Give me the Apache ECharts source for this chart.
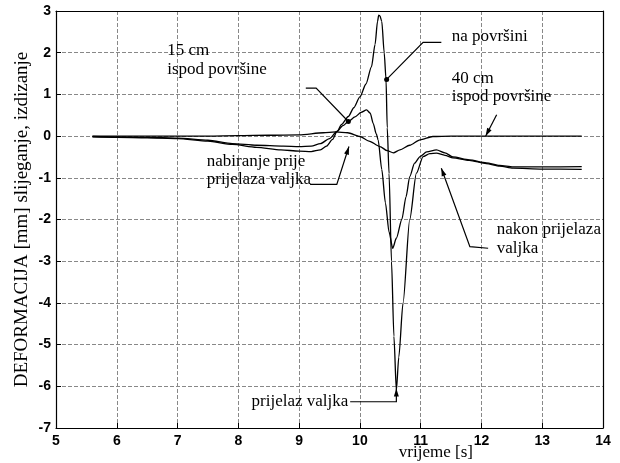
<!DOCTYPE html>
<html>
<head>
<meta charset="utf-8">
<script src="https://cdn.jsdelivr.net/npm/echarts@6/dist/echarts.min.js"></script>
<style>
  html, body { margin: 0; background: #fff; }
  #chart { width: 620px; height: 463px; }
</style>
</head>
<body>
<div id="chart"></div>
<script>
// vrijeme [s] / deformacija [mm] for the three measuring depths
const tSurface = [5.6, 6.0, 6.5, 7.0, 7.5, 7.9, 8.3, 8.7, 9.0, 9.2, 9.35, 9.45, 9.55, 9.62, 9.7, 9.81, 9.9, 10.0, 10.1, 10.19, 10.25, 10.29, 10.31, 10.33, 10.36, 10.4, 10.43, 10.45, 10.48, 10.52, 10.56, 10.6, 10.64, 10.71, 10.82, 10.93, 11.04, 11.15, 11.26, 11.4, 11.53, 11.8, 12.08, 12.3, 12.52, 13.0, 13.65];
const ySurface = [-0.02, -0.03, -0.04, -0.06, -0.12, -0.2, -0.27, -0.33, -0.36, -0.37, -0.33, -0.24, -0.08, 0.1, 0.28, 0.47, 0.68, 0.94, 1.25, 1.66, 2.2, 2.75, 2.9, 2.88, 2.75, 2.0, 1.36, 0.2, -0.9, -3.0, -4.8, -6.1, -5.3, -4.0, -2.0, -0.89, -0.49, -0.42, -0.41, -0.46, -0.52, -0.58, -0.66, -0.72, -0.77, -0.79, -0.8];

const t15 = [5.6, 6.0, 6.5, 7.0, 7.5, 7.9, 8.3, 8.74, 9.0, 9.2, 9.35, 9.5, 9.62, 9.72, 9.81, 9.92, 10.02, 10.11, 10.17, 10.22, 10.27, 10.3, 10.36, 10.42, 10.48, 10.54, 10.6, 10.69, 10.76, 10.82, 10.9, 10.99, 11.1, 11.26, 11.4, 11.53, 11.8, 12.08, 12.3, 12.52, 13.0, 13.65];
const y15 = [-0.01, -0.02, -0.03, -0.05, -0.1, -0.18, -0.22, -0.24, -0.25, -0.24, -0.18, -0.06, 0.11, 0.25, 0.35, 0.46, 0.57, 0.63, 0.55, 0.3, 0.05, -0.09, -0.8, -1.6, -2.3, -2.69, -2.45, -2.0, -1.45, -0.97, -0.65, -0.49, -0.38, -0.33, -0.4, -0.5, -0.57, -0.64, -0.7, -0.74, -0.74, -0.73];

const t40 = [5.6, 6.5, 7.5, 8.0, 8.5, 9.0, 9.4, 9.6, 9.8, 10.0, 10.15, 10.33, 10.45, 10.55, 10.66, 10.82, 10.99, 11.2, 11.5, 12.5, 13.65];
const y40 = [0, 0, 0, 0.01, 0.02, 0.03, 0.08, 0.1, 0.08, -0.01, -0.12, -0.25, -0.35, -0.4, -0.33, -0.22, -0.09, -0.01, 0, 0, 0];

const xTicks = [5, 14, 1];
const yTicks = [-7, 3, 1];

// annotation texts and leader lines, in data coordinates
const noteTexts = [
  ['15 cm', 6.83, 2.06, 'left'],
  ['ispod površine', 6.83, 1.6, 'left'],
  ['na površini', 11.51, 2.38, 'left'],
  ['40 cm', 11.51, 1.39, 'left'],
  ['ispod površine', 11.51, 0.94, 'left'],
  ['nabiranje prije', 7.48, -0.61, 'left'],
  ['prijelaza valjka', 7.48, -1.05, 'left'],
  ['nakon prijelaza', 12.25, -2.25, 'left'],
  ['valjka', 12.25, -2.69, 'left'],
  ['prijelaz valjka', 9.81, -6.37, 'right']
];
const leaders = [
  [[[9.11, 1.15], [9.28, 1.15], [9.81, 0.35]], 'dot'],
  [[[11.34, 2.25], [11.04, 2.25], [10.44, 1.36]], 'dot'],
  [[[12.25, 0.51], [12.07, 0.0]], 'arrow'],
  [[[9.18, -1.16], [9.62, -1.16], [9.82, -0.25]], 'arrow'],
  [[[12.11, -2.69], [11.81, -2.65], [11.34, -0.77]], 'arrow'],
  [[[9.84, -6.37], [10.6, -6.37], [10.6, -6.05]], 'arrow']
];

function pairs(xs, ys) {
  return xs.map((x, i) => [x, ys[i]]);
}

const serif = '"Liberation Serif", "DejaVu Serif", serif';
const sans = '"Liberation Sans", Arial, sans-serif';
const lineStyle = { color: '#000', width: 1.3 };

const chart = echarts.init(document.getElementById('chart'));

const option = {
  animation: false,
  backgroundColor: '#fff',
  grid: { left: 56, right: 17, top: 11, bottom: 35 },
  xAxis: [
    {
      type: 'value',
      min: xTicks[0], max: xTicks[1], interval: xTicks[2],
      axisLine: { show: true, onZero: false, lineStyle: { color: '#000', width: 1.2 } },
      axisTick: { show: true, inside: true, length: 5, lineStyle: { color: '#000' } },
      axisLabel: { color: '#000', fontSize: 14, fontWeight: 'bold', fontFamily: sans, margin: 6 },
      splitLine: { show: true, lineStyle: { color: '#888', type: 'dashed', width: 1 } }
    },
    {
      type: 'value', position: 'top',
      min: xTicks[0], max: xTicks[1], interval: xTicks[2],
      axisLine: { show: true, onZero: false, lineStyle: { color: '#000', width: 1.2 } },
      axisTick: { show: false }, axisLabel: { show: false }, splitLine: { show: false }
    }
  ],
  yAxis: [
    {
      type: 'value',
      min: yTicks[0], max: yTicks[1], interval: yTicks[2],
      name: 'DEFORMACIJA [mm] slijeganje, izdizanje',
      nameLocation: 'middle',
      nameGap: 24,
      nameMoveOverlap: false,
      nameTextStyle: { color: '#000', fontSize: 19, fontFamily: serif },
      axisLine: { show: true, onZero: false, lineStyle: { color: '#000', width: 1.2 } },
      axisTick: { show: true, inside: true, length: 5, lineStyle: { color: '#000' } },
      axisLabel: { color: '#000', fontSize: 14, fontWeight: 'bold', fontFamily: sans, margin: 5 },
      splitLine: { show: true, lineStyle: { color: '#888', type: 'dashed', width: 1 } }
    },
    {
      type: 'value', position: 'right',
      min: yTicks[0], max: yTicks[1], interval: yTicks[2],
      axisLine: { show: true, onZero: false, lineStyle: { color: '#000', width: 1.2 } },
      axisTick: { show: false }, axisLabel: { show: false }, splitLine: { show: false }
    }
  ],
  series: [
    { name: 'na površini', type: 'line', data: pairs(tSurface, ySurface), showSymbol: false, smooth: 0.25, smoothMonotone: 'x', lineStyle: lineStyle },
    { name: '15 cm ispod površine', type: 'line', data: pairs(t15, y15), showSymbol: false, smooth: 0.25, smoothMonotone: 'x', lineStyle: lineStyle },
    { name: '40 cm ispod površine', type: 'line', data: pairs(t40, y40), showSymbol: false, smooth: 0.25, smoothMonotone: 'x', lineStyle: lineStyle }
  ]
};

chart.setOption(option);

function px(p) {
  return chart.convertToPixel({ xAxisIndex: 0, yAxisIndex: 0 }, p);
}

const noteFont = '17px ' + serif;
const graphics = [];
noteTexts.forEach(n => {
  const p = px([n[1], n[2]]);
  graphics.push({
    type: 'text', x: p[0], y: p[1], z: 10,
    style: { text: n[0], fill: '#000', font: noteFont, textAlign: n[3], textVerticalAlign: 'middle' }
  });
});
leaders.forEach(l => {
  const pts = l[0].map(px);
  graphics.push({ type: 'polyline', z: 10, shape: { points: pts }, style: { stroke: '#000', lineWidth: 1.2, fill: null } });
  const end = pts[pts.length - 1];
  if (l[1] === 'dot') {
    graphics.push({ type: 'circle', z: 11, shape: { cx: end[0], cy: end[1], r: 2.5 }, style: { fill: '#000' } });
  } else {
    const prev = pts[pts.length - 2];
    const dx = end[0] - prev[0], dy = end[1] - prev[1];
    const len = Math.sqrt(dx * dx + dy * dy);
    const ux = dx / len, uy = dy / len;
    const bx = end[0] - ux * 8, by = end[1] - uy * 8;
    graphics.push({
      type: 'polygon', z: 11,
      shape: { points: [end, [bx - uy * 2.5, by + ux * 2.5], [bx + uy * 2.5, by - ux * 2.5]] },
      style: { fill: '#000' }
    });
  }
});
const xn = px([11.25, -7]);
graphics.push({
  type: 'text', x: xn[0], y: xn[1] + 25, z: 10,
  style: { text: 'vrijeme [s]', fill: '#000', font: noteFont, textAlign: 'center', textVerticalAlign: 'middle' }
});

chart.setOption({ graphic: graphics });
</script>
</body>
</html>
